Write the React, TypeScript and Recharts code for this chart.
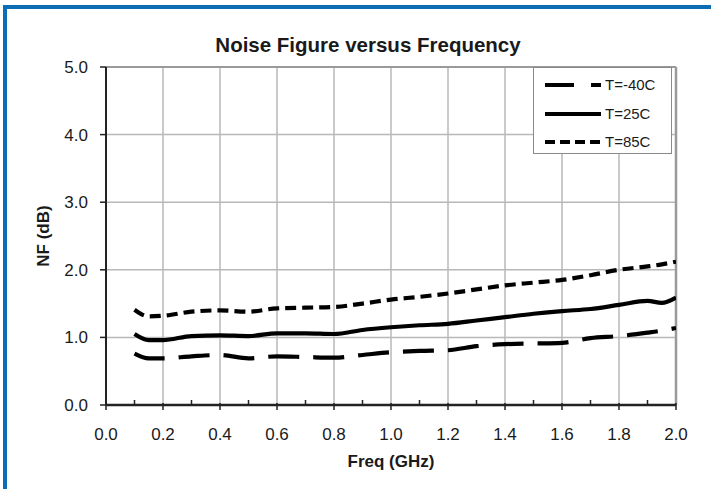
import React from 'react';
import { LineChart, Line, XAxis, YAxis, CartesianGrid, ReferenceLine, Legend } from 'recharts';

const freq = [0.1, 0.15, 0.2, 0.3, 0.4, 0.5, 0.6, 0.7, 0.8, 0.9, 1.0, 1.1, 1.2, 1.3, 1.4, 1.5, 1.6, 1.7, 1.8, 1.9, 1.95, 2.0];
const nfM40 = [0.76, 0.69, 0.69, 0.72, 0.74, 0.69, 0.72, 0.71, 0.70, 0.74, 0.78, 0.80, 0.81, 0.87, 0.90, 0.91, 0.92, 0.99, 1.02, 1.07, 1.10, 1.14];
const nf25 = [1.05, 0.96, 0.96, 1.02, 1.03, 1.02, 1.06, 1.06, 1.05, 1.11, 1.15, 1.18, 1.20, 1.25, 1.30, 1.35, 1.39, 1.42, 1.48, 1.54, 1.51, 1.59];
const nf85 = [1.41, 1.31, 1.32, 1.38, 1.40, 1.38, 1.43, 1.44, 1.45, 1.50, 1.56, 1.60, 1.65, 1.71, 1.77, 1.81, 1.85, 1.92, 2.00, 2.05, 2.08, 2.12];

const xTicks = [0, 0.1, 0.2, 0.3, 0.4, 0.5, 0.6, 0.7, 0.8, 0.9, 1.0, 1.1, 1.2, 1.3, 1.4, 1.5, 1.6, 1.7, 1.8, 1.9, 2.0];
const xGrid = [0.2, 0.4, 0.6, 0.8, 1.0, 1.2, 1.4, 1.6, 1.8];
const yTicks = [0, 1, 2, 3, 4, 5];

const seriesNames = ['T=-40C', 'T=25C', 'T=85C'];

const data = freq.map((f, i) => ({ f, m40: nfM40[i], t25: nf25[i], t85: nf85[i] }));

const FONT = 'Arial, "Liberation Sans", sans-serif';
const TXT = '#1a1a1a';

const XTick = (props: any) => {
  const { x, y, payload, index } = props;
  const major = index % 2 === 0;
  return (
    <g>
      {major ? (
        <line x1={x} x2={x} y1={y - 2} y2={y + 5} stroke="#222" strokeWidth={1.5} />
      ) : (
        <line x1={x} x2={x} y1={y - 5} y2={y} stroke="#222" strokeWidth={1.5} />
      )}
      {major && (
        <text x={x} y={y + 23} dy="0.71em" textAnchor="middle" fontSize={17} fontFamily={FONT} fill={TXT}>
          {Number(payload.value).toFixed(1)}
        </text>
      )}
    </g>
  );
};

const legendDash = ['29 17', undefined, '10 5'];

const renderLegend = () => (
  <div
    style={{
      position: 'absolute',
      left: 533,
      top: 67,
      width: 139,
      height: 87,
      border: '1.5px solid #8a8a8a',
      background: '#fff',
      boxSizing: 'border-box',
    }}
  >
    {seriesNames.map((n, i) => (
      <div key={n} style={{ position: 'absolute', left: 10, top: 7 + i * 28.5, height: 20, display: 'flex', alignItems: 'center' }}>
        <svg width={58} height={20}>
          <line x1={1} x2={57} y1={10} y2={10} stroke="#000" strokeWidth={4.2} strokeDasharray={legendDash[i]} />
        </svg>
        <span style={{ fontFamily: FONT, fontSize: 15, color: TXT, marginLeft: 3, lineHeight: '20px' }}>{n}</span>
      </div>
    ))}
  </div>
);

export default function App() {
  return (
    <div style={{ position: 'fixed', left: 0, top: 0, width: 711, height: 489, background: '#fff', overflow: 'hidden' }}>
      <div style={{ position: 'absolute', left: 3, top: 5, width: 708, height: 4, background: '#0b6db3' }} />
      <div style={{ position: 'absolute', left: 3, top: 5, width: 4, height: 484, background: '#0b6db3' }} />
      <div
        style={{
          position: 'absolute',
          left: 168,
          width: 400,
          top: 33,
          textAlign: 'center',
          fontFamily: FONT,
          fontWeight: 'bold',
          fontSize: 20.5,
          lineHeight: '24px',
          color: TXT,
        }}
      >
        Noise Figure versus Frequency
      </div>
      <div
        style={{
          position: 'absolute',
          left: 291,
          width: 200,
          top: 452,
          textAlign: 'center',
          fontFamily: FONT,
          fontWeight: 'bold',
          fontSize: 17,
          lineHeight: '20px',
          color: TXT,
        }}
      >
        Freq (GHz)
      </div>
      <div
        style={{
          position: 'absolute',
          left: 44 - 60,
          width: 120,
          top: 236 - 10,
          textAlign: 'center',
          fontFamily: FONT,
          fontWeight: 'bold',
          fontSize: 17,
          lineHeight: '20px',
          color: TXT,
          transform: 'rotate(-90deg)',
        }}
      >
        NF (dB)
      </div>
      <div style={{ position: 'absolute', left: 0, top: 0 }}>
        <LineChart width={711} height={489} data={data} margin={{ top: 67, right: 35, bottom: 54, left: 46 }}>
          <CartesianGrid vertical={false} stroke="#b8b8b8" strokeWidth={1.5} />
          {xGrid.map((v) => (
            <ReferenceLine key={v} x={v} stroke="#b8b8b8" strokeWidth={1.5} />
          ))}
          <ReferenceLine y={5} stroke="#9a9a9a" strokeWidth={2} />
          <ReferenceLine x={2} stroke="#9a9a9a" strokeWidth={2.5} />
          <XAxis
            dataKey="f"
            type="number"
            domain={[0, 2]}
            ticks={xTicks}
            interval={0}
            height={30}
            tickSize={0}
            tickMargin={0}
            tickLine={false}
            tick={<XTick />}
            axisLine={{ stroke: '#222', strokeWidth: 2.5 }}
            allowDataOverflow
          />
          <YAxis
            type="number"
            domain={[0, 5]}
            ticks={yTicks}
            width={60}
            tickSize={6}
            tickMargin={12}
            tickFormatter={(v: number) => v.toFixed(1)}
            tick={{ fontSize: 17, fontFamily: FONT, fill: TXT }}
            tickLine={{ stroke: '#222', strokeWidth: 1.5 }}
            axisLine={{ stroke: '#222', strokeWidth: 2 }}
          />
          <Legend layout="vertical" align="center" verticalAlign="middle" content={renderLegend} wrapperStyle={{ position: 'absolute', left: 0, top: 0, width: 0, height: 0 }} />
          <Line dataKey="m40" name={seriesNames[0]} type="monotone" stroke="#000" strokeWidth={4.2} strokeDasharray="31 14" dot={false} isAnimationActive={false} />
          <Line dataKey="t25" name={seriesNames[1]} type="monotone" stroke="#000" strokeWidth={4.2} dot={false} isAnimationActive={false} />
          <Line dataKey="t85" name={seriesNames[2]} type="monotone" stroke="#000" strokeWidth={4.2} strokeDasharray="11 6" dot={false} isAnimationActive={false} />
        </LineChart>
      </div>
    </div>
  );
}
